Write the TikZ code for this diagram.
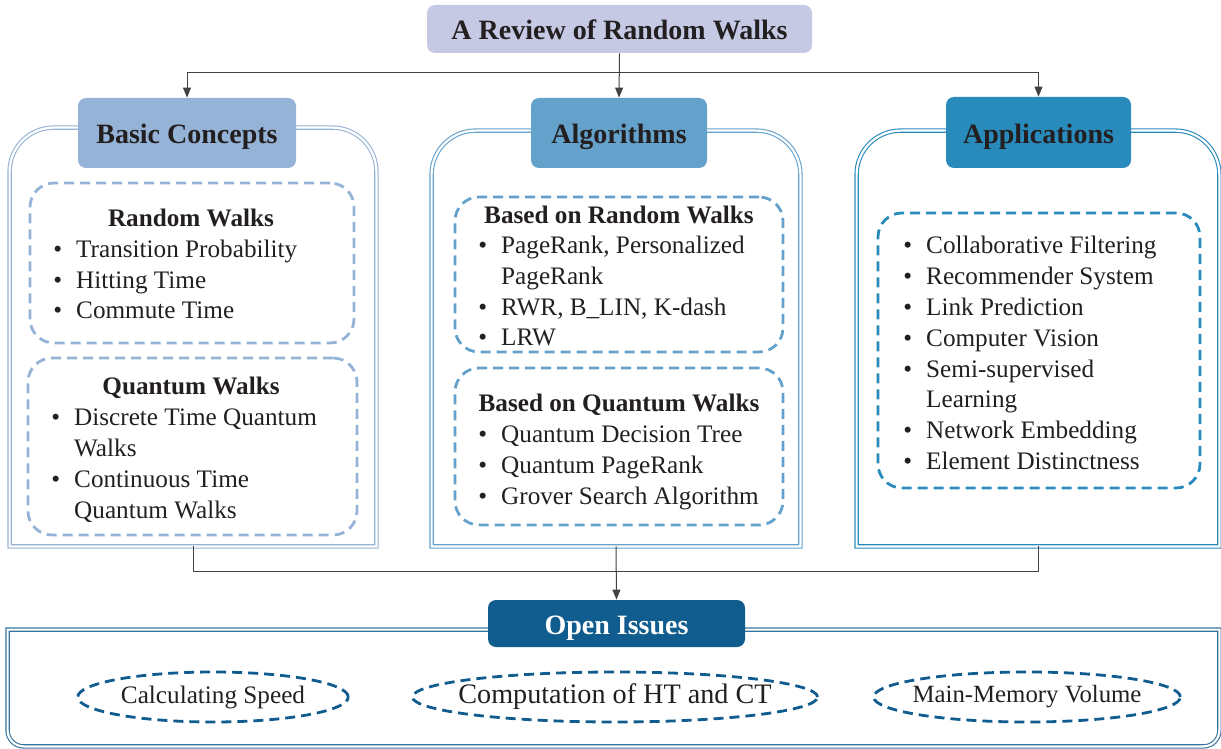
\documentclass[tikz,border=0pt]{standalone}
\usepackage{fontspec}
\setmainfont{Liberation Serif}
\usetikzlibrary{shapes.geometric, arrows.meta, positioning, calc}
\definecolor{titlelav}{RGB}{198, 201, 228}
\definecolor{basicblue}{RGB}{149, 179, 214}
\definecolor{algoblue}{RGB}{100, 162, 203}
\definecolor{appblue}{RGB}{41, 139, 187}
\definecolor{issueblue}{RGB}{16, 92, 142}
\definecolor{inkdark}{RGB}{35, 31, 32}

\tikzset{
  headbox/.style={rounded corners=4pt, inner sep=0pt, text=inkdark, text height=11pt, text depth=0pt, font=\fontsize{14}{16}\selectfont\bfseries},
  panel/.style={draw=none, inner sep=0pt},
  panelline/.style={line width=0.55pt, double=white, double distance=1.1pt},
  dashbox/.style={rounded corners=12pt, line width=1.4pt, dash pattern=on 5pt off 3pt, inner sep=0pt},
  subhead/.style={font=\fontsize{12.6}{15.4}\selectfont\bfseries, text=inkdark, inner sep=0pt},
  items/.style={font=\fontsize{12.6}{15.4}\selectfont, text=inkdark, inner sep=0pt, anchor=west},
  issue/.style={ellipse, draw=issueblue, line width=1.4pt, dash pattern=on 5pt off 3pt, inner ysep=0pt, minimum height=25pt, text=inkdark},
  link/.style={draw=inkdark!85, line width=0.5pt},
}

\begin{document}
\begin{tikzpicture}[x=0.5pt, y=-0.5pt, >={Triangle[length=5pt, width=4pt]}]
  \useasboundingbox (0,0) rectangle (1221,749);

  % outer panels
  \node[panel, minimum width=183pt, minimum height=209pt] (basic) at (193, 337) {};
  \node[panel, minimum width=184pt, minimum height=207.5pt] (algo) at (616, 338.5) {};
  \node[panel, minimum width=181pt, minimum height=207.5pt] (apps) at (1038, 338.5) {};
  \node[panel, minimum width=605.5pt, minimum height=58pt] (issuepanel) at (613.5, 688) {};

  \draw[panelline, draw=basicblue] (basic.south west) -- ([yshift=-22pt]basic.north west) arc[start angle=180, end angle=90, radius=22pt]
    -- ([xshift=-22pt]basic.north east) arc[start angle=90, end angle=0, radius=22pt] -- (basic.south east) -- cycle;
  \draw[panelline, draw=algoblue] (algo.south west) -- ([yshift=-22pt]algo.north west) arc[start angle=180, end angle=90, radius=22pt]
    -- ([xshift=-22pt]algo.north east) arc[start angle=90, end angle=0, radius=22pt] -- (algo.south east) -- cycle;
  \draw[panelline, draw=appblue] (apps.south west) -- ([yshift=-22pt]apps.north west) arc[start angle=180, end angle=90, radius=22pt]
    -- ([xshift=-22pt]apps.north east) arc[start angle=90, end angle=0, radius=22pt] -- (apps.south east) -- cycle;
  \draw[panelline, draw=issueblue!85] (issuepanel.north west) -- ([yshift=8pt]issuepanel.south west) arc[start angle=180, end angle=270, radius=8pt]
    -- ([xshift=-8pt]issuepanel.south east) arc[start angle=270, end angle=360, radius=8pt] -- (issuepanel.north east) -- cycle;

  % headings
  \node[headbox, fill=titlelav, minimum width=192.5pt, minimum height=24pt] (title) at (619.5, 29) {A Review of Random Walks};
  \node[headbox, fill=basicblue, minimum width=109pt, minimum height=35pt] (basictitle) at (187, 133) {Basic Concepts};
  \node[headbox, fill=algoblue, minimum width=88pt, minimum height=35pt] (algotitle) at (619, 133) {Algorithms};
  \node[headbox, fill=appblue, minimum width=92.5pt, minimum height=35.5pt] (apptitle) at (1038.5, 132.5) {Applications};
  \node[headbox, fill=issueblue, text=white, minimum width=128.5pt, minimum height=23.5pt] (issuetitle) at (616.5, 623.5) {Open Issues};

  % Basic concepts
  \node[dashbox, draw=basicblue, minimum width=162pt, minimum height=80pt] (bcrw) at (192, 263) {};
  \node[subhead] (bcrwhead) at (191, 218) {Random Walks};
  \node[items] (bcrwlist) at (53, 282) {\begin{tabular}{@{}c@{\hspace{7pt}}l@{}}
    \textbullet & Transition Probability\\
    \textbullet & Hitting Time\\
    \textbullet & Commute Time
  \end{tabular}};

  \node[dashbox, draw=basicblue, minimum width=164.5pt, minimum height=88.5pt] (bcqw) at (192.5, 446.5) {};
  \node[subhead] (bcqwhead) at (191, 388) {Quantum Walks};
  \node[items] (bcqwlist) at (51, 466) {\begin{tabular}{@{}c@{\hspace{7pt}}l@{}}
    \textbullet & Discrete Time Quantum\\
                & Walks\\
    \textbullet & Continuous Time\\
                & Quantum Walks
  \end{tabular}};

  % Algorithms
  \node[dashbox, draw=algoblue, minimum width=164pt, minimum height=77.5pt] (alrw) at (619, 274.5) {};
  \node[subhead] (alrwhead) at (619, 215) {Based on Random Walks};
  \node[items] (alrwlist) at (478, 293.5) {\begin{tabular}{@{}c@{\hspace{7pt}}l@{}}
    \textbullet & PageRank, Personalized\\
                & PageRank\\
    \textbullet & RWR, B\_LIN, K-dash\\
    \textbullet & LRW
  \end{tabular}};

  \node[dashbox, draw=algoblue, minimum width=164pt, minimum height=78.5pt] (alqw) at (619, 446.5) {};
  \node[subhead] (alqwhead) at (619, 405) {Based on Quantum Walks};
  \node[items] (alqwlist) at (478, 467.5) {\begin{tabular}{@{}c@{\hspace{7pt}}l@{}}
    \textbullet & Quantum Decision Tree\\
    \textbullet & Quantum PageRank\\
    \textbullet & Grover Search Algorithm
  \end{tabular}};

  % Applications
  \node[dashbox, draw=appblue, minimum width=161pt, minimum height=137.5pt] (apbox) at (1039, 350.5) {};
  \node[items] (aplist) at (903, 355.5) {\begin{tabular}{@{}c@{\hspace{7pt}}l@{}}
    \textbullet & Collaborative Filtering\\
    \textbullet & Recommender System\\
    \textbullet & Link Prediction\\
    \textbullet & Computer Vision\\
    \textbullet & Semi-supervised\\
                & Learning\\
    \textbullet & Network Embedding\\
    \textbullet & Element Distinctness
  \end{tabular}};

  % Open issues
  \node[issue, inner xsep=1.8pt, font=\fontsize{12.6}{15}\selectfont] (speed) at (213, 697) {Calculating Speed};
  \node[issue, inner xsep=-6.7pt, font=\fontsize{14.1}{16}\selectfont] (htct) at (615, 697) {Computation of HT and CT};
  \node[issue, inner xsep=-3pt, font=\fontsize{12.4}{15}\selectfont] (memory) at (1027, 697) {Main-Memory Volume};

  % connectors
  \coordinate (split) at ($(title.south)+(0,19)$);
  \draw[link, ->] (title.south) -- (algotitle.north);
  \draw[link, ->] (split) -| (basictitle.north);
  \draw[link, ->] (split) -| (apptitle.north);
  \coordinate (merge) at ($(basic.south)+(0,25)$);
  \draw[link] (basic.south) -- (merge) -| (apps.south);
  \draw[link, ->] (algo.south) -- (issuetitle.north);
\end{tikzpicture}
\end{document}
